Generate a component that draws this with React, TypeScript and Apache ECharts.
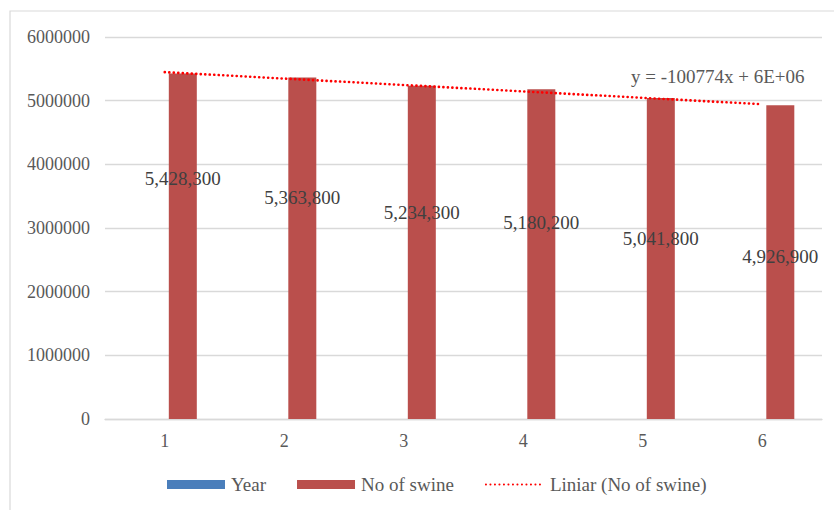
import React, { useEffect, useRef } from "react";
import * as echarts from "echarts";

const categories = ["1", "2", "3", "4", "5", "6"];
const yearValues = [1, 2, 3, 4, 5, 6];
const swineValues = [5428300, 5363800, 5234300, 5180200, 5041800, 4926900];
const labelOffsets = [91, 105, 112, 119, 126, 137];
const equationText = "y = -100774x + 6E+06";

// linear least-squares trendline over category index (1..n)
function trend(values: number[]): number[] {
  const n = values.length;
  const xs = values.map((_, i) => i + 1);
  const mx = xs.reduce((a, b) => a + b, 0) / n;
  const my = values.reduce((a, b) => a + b, 0) / n;
  let sxy = 0;
  let sxx = 0;
  for (let i = 0; i < n; i++) {
    sxy += (xs[i] - mx) * (values[i] - my);
    sxx += (xs[i] - mx) * (xs[i] - mx);
  }
  const slope = sxy / sxx;
  const b = my - slope * mx;
  return xs.map((x) => slope * x + b);
}

const FONT = '"Liberation Serif", "Times New Roman", serif';

export default function App() {
  const ref = useRef<HTMLDivElement>(null);
  useEffect(() => {
    if (!ref.current) return;
    const chart = echarts.init(ref.current, undefined, { renderer: "svg" });
    const fmt = (v: number) => v.toLocaleString("en-US");
    chart.setOption({
      animation: false,
      backgroundColor: "#ffffff",
      textStyle: { fontFamily: FONT },
      grid: { left: 105, right: 12, top: 37, bottom: 91 },
      graphic: [
        {
          type: "rect",
          shape: { x: 10, y: 11, width: 900, height: 600 },
          style: { fill: "none", stroke: "#d9d9d9", lineWidth: 1.2 },
          silent: true,
        },
        {
          type: "text",
          left: 631,
          top: 67,
          style: {
            text: equationText,
            fontFamily: FONT,
            fontSize: 19,
            fill: "#595959",
          },
        },
      ],
      legend: {
        left: 162,
        top: 470,
        itemWidth: 58,
        itemHeight: 9,
        itemGap: 31,
        textStyle: {
          fontFamily: FONT,
          fontSize: 19,
          color: "#595959",
          padding: [0, 0, 0, 1],
        },
        data: [
          { name: "Year", icon: "rect" },
          { name: "No of swine", icon: "rect" },
          { name: "Liniar (No of swine)", itemStyle: { opacity: 0 } },
        ],
      },
      xAxis: {
        type: "category",
        data: categories,
        axisTick: { show: false },
        axisLine: { lineStyle: { color: "#d9d9d9", width: 1.3 } },
        axisLabel: {
          fontFamily: FONT,
          fontSize: 18,
          color: "#595959",
          margin: 13,
        },
      },
      yAxis: {
        type: "value",
        min: 0,
        max: 6000000,
        interval: 1000000,
        axisLine: { show: false },
        axisTick: { show: false },
        splitLine: { lineStyle: { color: "#d9d9d9", width: 1.3 } },
        axisLabel: {
          fontFamily: FONT,
          fontSize: 18,
          color: "#595959",
          margin: 15,
          formatter: (v: number) => String(v),
        },
      },
      series: [
        {
          name: "Year",
          type: "bar",
          data: yearValues,
          barWidth: 28,
          barGap: "29%",
          itemStyle: { color: "#4a7ebb" },
        },
        {
          name: "No of swine",
          type: "bar",
          barWidth: 28,
          barGap: "29%",
          itemStyle: { color: "#ba4f4c" },
          data: swineValues.map((v, i) => ({
            value: v,
            label: {
              show: true,
              position: "insideTop",
              distance: 5,
              offset: [0, labelOffsets[i]],
              formatter: () => fmt(v),
              fontFamily: FONT,
              fontSize: 19,
              color: "#404040",
            },
          })),
        },
        {
          name: "Liniar (No of swine)",
          type: "line",
          data: trend(swineValues),
          symbol: "none",
          showSymbol: false,
          z: 5,
          lineStyle: {
            color: "#ff0000",
            width: 2.6,
            type: [0.1, 4.4],
            cap: "round",
          },
          itemStyle: { color: "#ff0000" },
        },
      ],
    });
    return () => chart.dispose();
  }, []);
  return (
    <div
      ref={ref}
      style={{ position: "fixed", left: 0, top: 0, width: 834, height: 510 }}
    />
  );
}
